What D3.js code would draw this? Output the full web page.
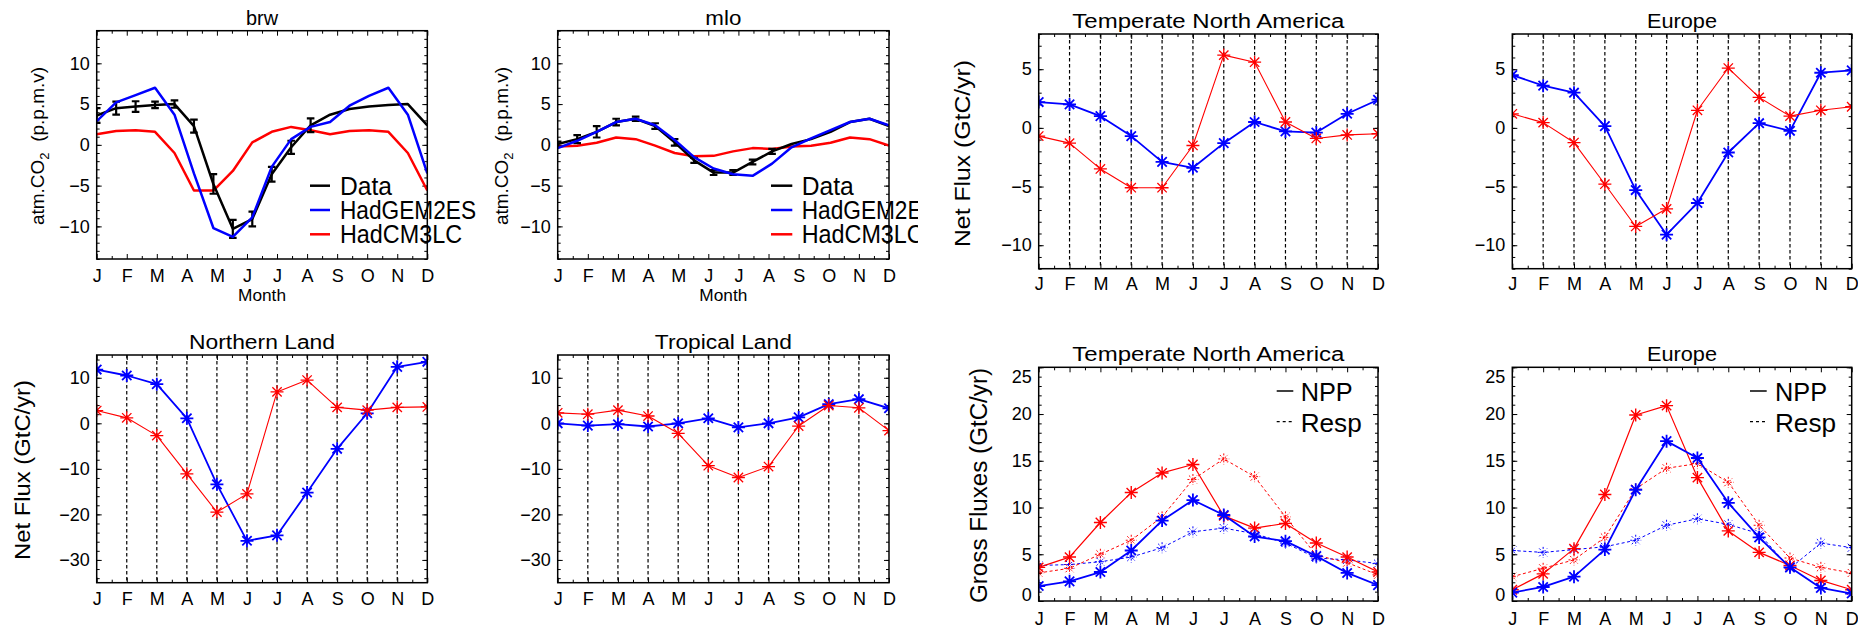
<!DOCTYPE html>
<html>
<head>
<meta charset="utf-8">
<script src="https://cdn.jsdelivr.net/npm/d3@7"></script>
<style>
  html, body { margin: 0; padding: 0; background: #fff; }
  svg { display: block; }
</style>
</head>
<body>
<script>
// ---------------- DATA ----------------
const months = ["J","F","M","A","M","J","J","A","S","O","N","D"];

// Atmospheric CO2 seasonal cycle (18 points spread over the J..D axis)
const brwObs       = [3.6,4.5,4.7,4.9,5.0,2.3,-4.8,-10.3,-9.1,-3.6,-0.3,2.4,3.7,4.4,4.7,4.9,5.0,2.4];
const brwObsErr    = [0.9,0.8,0.65,0.4,0.45,0.8,1.2,1.1,0.9,0.9,0.8,0.85];
const brwHadGEM2ES = [2.9,5.2,6.1,7.0,3.7,-3.5,-10.2,-11.3,-8.9,-2.7,0.7,2.2,2.8,4.8,6.0,7.0,3.7,-3.5];
const brwHadCM3LC  = [1.3,1.7,1.8,1.6,-1.0,-5.6,-5.6,-3.2,0.3,1.6,2.2,1.8,1.3,1.7,1.8,1.6,-1.0,-5.6];

const mloObs       = [0.1,0.7,1.6,2.8,3.2,2.3,0.3,-1.9,-3.4,-3.4,-2.1,-0.8,0.1,0.7,1.6,2.8,3.2,2.3];
const mloObsErr    = [0.3,0.5,0.7,0.4,0.25,0.35,0.4,0.3,0.3,0.3,0.3,0.3];
const mloHadGEM2ES = [-0.4,0.5,1.6,2.8,3.2,2.4,0.6,-1.5,-2.9,-3.6,-3.8,-2.3,-0.3,0.8,1.8,2.8,3.2,2.4];
const mloHadCM3LC  = [-0.2,-0.1,0.25,0.9,0.7,-0.1,-1.0,-1.4,-1.35,-0.8,-0.4,-0.5,-0.2,-0.1,0.25,0.9,0.7,-0.1];

// Net flux (GtC/yr), blue = HadGEM2ES, red = HadCM3LC
const tnaNetGEM = [2.2,2.0,1.0,-0.7,-2.9,-3.4,-1.3,0.5,-0.3,-0.4,1.2,2.4];
const tnaNetCM3 = [-0.7,-1.3,-3.5,-5.1,-5.1,-1.5,6.2,5.6,0.5,-0.9,-0.6,-0.5];
const eurNetGEM = [4.5,3.6,3.0,0.15,-5.3,-9.1,-6.4,-2.1,0.4,-0.25,4.7,4.9];
const eurNetCM3 = [1.2,0.45,-1.25,-4.8,-8.4,-6.9,1.5,5.1,2.6,1.0,1.5,1.8];
const nlNetGEM  = [11.8,10.5,8.6,1.1,-13.4,-25.8,-24.6,-15.2,-5.6,2.2,12.4,13.5];
const nlNetCM3  = [2.8,1.2,-2.7,-11.1,-19.5,-15.5,6.9,9.5,3.5,2.9,3.5,3.6];
const tlNetGEM  = [0.0,-0.5,-0.2,-0.7,0.0,1.1,-0.9,0.0,1.3,4.2,5.3,3.3];
const tlNetCM3  = [2.3,2.0,2.9,1.6,-2.2,-9.3,-11.9,-9.5,-0.6,3.9,3.4,-1.6];

// Gross fluxes (GtC/yr)
const tnaNppGEM  = [1.6,2.1,3.1,5.4,8.6,10.8,9.2,6.9,6.4,4.8,3.0,1.7];
const tnaRespGEM = [3.8,3.9,4.2,4.7,5.7,7.4,7.8,7.2,6.2,4.6,4.4,4.0];
const tnaNppCM3  = [3.6,4.7,8.4,11.6,13.7,14.6,9.1,7.8,8.3,6.2,4.7,3.1];
const tnaRespCM3 = [3.0,3.5,5.0,6.5,9.0,13.0,15.2,13.3,9.0,4.9,4.1,2.8];
const eurNppGEM  = [0.9,1.5,2.6,5.5,11.9,17.1,15.3,10.5,6.8,3.6,1.4,0.8];
const eurRespGEM = [5.4,5.2,5.5,5.8,6.5,8.1,8.8,8.2,7.2,3.5,6.2,5.7];
const eurNppCM3  = [1.2,2.9,5.6,11.4,19.9,20.9,13.2,7.5,5.2,3.8,2.2,1.2];
const eurRespCM3 = [2.6,3.5,4.4,6.8,12.0,14.2,14.7,12.7,8.1,4.6,3.6,3.0];

// Tick values
const co2Ticks   = [-10,-5,0,5,10];
const netTicksA  = [-10,-5,0,5];
const netTicksB  = [-30,-20,-10,0,10];
const grossTicks = [0,5,10,15,20,25];

const co2Legend   = ["Data","HadGEM2ES","HadCM3LC"];
const grossLegend = ["NPP","Resp"];

// ---------------- DRAWING ----------------
const FONT = "'Liberation Sans', Arial, Helvetica, sans-serif";
const BLUE = "#0000ff", RED = "#ff0000", BLACK = "#000000";
const svg = d3.select("body").append("svg").attr("width", 1858).attr("height", 626);
const defs = svg.append("defs");

const idx18 = d3.range(18).map(i => i * 11 / 17);
const idx12 = d3.range(12);

function asterisk(r) {
  const d = r * 0.72;
  return `M${-r},0L${r},0M0,${-r}L0,${r}M${-d},${-d}L${d},${d}M${-d},${d}L${d},${-d}`;
}

function panel(cfg) {
  const [x0, x1, y0, y1] = cfg.box;
  const x = d3.scaleLinear().domain([0, 11]).range([x0, x1]);
  const y = d3.scaleLinear().domain(cfg.yDomain).range([y1, y0]);
  const g = svg.append("g");
  const cid = "clip_" + cfg.id;
  defs.append("clipPath").attr("id", cid).append("rect")
    .attr("x", x0).attr("y", y0).attr("width", x1 - x0).attr("height", y1 - y0);

  // dashed month grid
  if (cfg.grid) {
    g.append("g").selectAll("line").data(d3.range(1, 11)).join("line")
      .attr("x1", d => x(d)).attr("x2", d => x(d)).attr("y1", y0).attr("y2", y1)
      .attr("stroke", BLACK).attr("stroke-width", 1.2).attr("stroke-dasharray", "3.5,2.5");
  }

  // axes
  const minorY = d3.range(cfg.minorStart, cfg.yDomain[1] + 1e-9, cfg.minorStep);
  const minorX = d3.range(0.5, 11, 1);
  function styleAxis(sel) {
    sel.select(".domain").remove();
    sel.selectAll("line").attr("stroke", BLACK).attr("stroke-width", 1);
    sel.attr("font-family", FONT).attr("font-size", 18);
    sel.selectAll("text").attr("fill", BLACK);
  }
  const left = g.append("g").attr("transform", `translate(${x0},0)`)
    .call(d3.axisLeft(y).tickValues(cfg.yTicks).tickSize(-5).tickPadding(7).tickFormat(d3.format("d")));
  styleAxis(left);
  left.selectAll("text").attr("y", d => {
    const py = y(d);
    if (py - y0 < 8) return 9.4;
    if (y1 - py < 8) return -6;
    return 0;
  });
  g.append("g").attr("transform", `translate(${x0},0)`)
    .call(d3.axisLeft(y).tickValues(minorY).tickSize(-3).tickFormat("")).call(styleAxis);
  g.append("g").attr("transform", `translate(${x1},0)`)
    .call(d3.axisRight(y).tickValues(cfg.yTicks).tickSize(-5).tickFormat("")).call(styleAxis);
  g.append("g").attr("transform", `translate(${x1},0)`)
    .call(d3.axisRight(y).tickValues(minorY).tickSize(-3).tickFormat("")).call(styleAxis);
  const bottom = g.append("g").attr("transform", `translate(0,${y1})`)
    .call(d3.axisBottom(x).tickValues(idx12).tickSize(-5).tickFormat(i => months[i]));
  styleAxis(bottom);
  bottom.selectAll("text").attr("y", cfg.xlabBase - y1).attr("dy", 0);
  g.append("g").attr("transform", `translate(0,${y1})`)
    .call(d3.axisBottom(x).tickValues(minorX).tickSize(-3).tickFormat("")).call(styleAxis);
  g.append("g").attr("transform", `translate(0,${y0})`)
    .call(d3.axisTop(x).tickValues(idx12).tickSize(-5).tickFormat("")).call(styleAxis);
  g.append("g").attr("transform", `translate(0,${y0})`)
    .call(d3.axisTop(x).tickValues(minorX).tickSize(-3).tickFormat("")).call(styleAxis);

  // series
  const plot = g.append("g").attr("clip-path", `url(#${cid})`);
  cfg.series.forEach(s => {
    const xs = s.xs || idx12;
    const line = d3.line().x((d, i) => x(xs[i])).y(d => y(d));
    plot.append("path").datum(s.values).attr("d", line)
      .attr("fill", "none").attr("stroke", s.color).attr("stroke-width", s.width)
      .attr("stroke-dasharray", s.dash || null).attr("stroke-linejoin", "round");
    if (s.err) {
      const eg = plot.append("g").attr("stroke", s.color).attr("stroke-width", 2.2);
      s.err.forEach((e, i) => {
        const cx = x(xs[i]), v = s.values[i];
        eg.append("line").attr("x1", cx).attr("x2", cx).attr("y1", y(v - e)).attr("y2", y(v + e));
        eg.append("line").attr("x1", cx - 3.8).attr("x2", cx + 3.8).attr("y1", y(v - e)).attr("y2", y(v - e));
        eg.append("line").attr("x1", cx - 3.8).attr("x2", cx + 3.8).attr("y1", y(v + e)).attr("y2", y(v + e));
      });
    }
    if (s.marker) {
      plot.append("g").selectAll("path").data(s.values).join("path")
        .attr("transform", (d, i) => `translate(${x(xs[i])},${y(d)})`)
        .attr("d", asterisk(s.marker))
        .attr("fill", "none").attr("stroke", s.color).attr("stroke-width", s.mwidth || s.width)
        .attr("stroke-dasharray", s.mdash || null);
    }
  });

  // frame
  g.append("rect").attr("x", x0).attr("y", y0).attr("width", x1 - x0).attr("height", y1 - y0)
    .attr("fill", "none").attr("stroke", BLACK).attr("stroke-width", 1.5);

  // title
  g.append("text").attr("x", (x0 + x1) / 2).attr("y", cfg.titleBase)
    .attr("text-anchor", "middle").attr("font-family", FONT).attr("font-size", 20)
    .attr("textLength", cfg.titleLen).attr("lengthAdjust", "spacingAndGlyphs")
    .attr("fill", BLACK).text(cfg.title);

  // y title
  if (cfg.yTitle) {
    const t = cfg.yTitle;
    const tt = g.append("text").attr("transform", `translate(${t.x},${t.y}) rotate(-90)`)
      .attr("text-anchor", "middle").attr("font-family", FONT).attr("font-size", t.size).attr("fill", BLACK);
    if (t.co2) {
      tt.append("tspan").text("atm.CO");
      tt.append("tspan").attr("font-size", 13).attr("dy", 5).text("2");
      tt.append("tspan").attr("dy", -5).text("\u00a0\u00a0(p.p.m.v)");
    } else {
      tt.attr("textLength", t.len).attr("lengthAdjust", "spacingAndGlyphs").text(t.text);
    }
  }

  // Month label
  if (cfg.monthBase) {
    g.append("text").attr("x", (x0 + x1) / 2).attr("y", cfg.monthBase)
      .attr("text-anchor", "middle").attr("font-family", FONT).attr("font-size", 17)
      .attr("textLength", 48).attr("lengthAdjust", "spacingAndGlyphs").attr("fill", BLACK).text("Month");
  }

  // legend
  if (cfg.legend) {
    const L = cfg.legend;
    const lg = g.append("g");
    if (L.clip) {
      defs.append("clipPath").attr("id", cid + "_leg").append("rect")
        .attr("x", 0).attr("y", 0).attr("width", L.clip).attr("height", 626);
      lg.attr("clip-path", `url(#${cid}_leg)`);
    }
    L.items.forEach((it, i) => {
      const ly = L.y[i];
      lg.append("line").attr("x1", L.lx0).attr("x2", L.lx1).attr("y1", ly).attr("y2", ly)
        .attr("stroke", it.color).attr("stroke-width", it.width).attr("stroke-dasharray", it.dash || null);
      lg.append("text").attr("x", L.tx).attr("y", L.base[i]).attr("font-family", FONT)
        .attr("font-size", L.size).attr("textLength", it.len).attr("lengthAdjust", "spacingAndGlyphs")
        .attr("fill", BLACK).text(it.label);
    });
  }
}

const co2LegendStyle = [
  { label: co2Legend[0], color: BLACK, width: 2.5, len: 52 },
  { label: co2Legend[1], color: BLUE,  width: 2.5, len: 136 },
  { label: co2Legend[2], color: RED,   width: 2.5, len: 122 }
];
const grossLegendStyle = [
  { label: grossLegend[0], color: BLACK, width: 1.5, len: 52 },
  { label: grossLegend[1], color: BLACK, width: 1.2, dash: "3,3", len: 61 }
];

// Panel 1: brw
panel({
  id: "brw", box: [96.7, 427.3, 30.7, 259], yDomain: [-14, 14], yTicks: co2Ticks,
  minorStart: -14, minorStep: 1, title: "brw", titleBase: 25, titleLen: 32,
  xlabBase: 281.7, monthBase: 301,
  yTitle: { co2: true, x: 44, y: 146, size: 19 },
  series: [
    { values: brwHadCM3LC, xs: idx18, color: RED, width: 2.5 },
    { values: brwObs, xs: idx18, color: BLACK, width: 2.5, err: brwObsErr },
    { values: brwHadGEM2ES, xs: idx18, color: BLUE, width: 2.5 }
  ],
  legend: { items: co2LegendStyle, lx0: 310, lx1: 330, tx: 340, y: [185.7, 210, 234.3], base: [194.5, 218.5, 242.7], size: 25 }
});

// Panel 2: mlo
panel({
  id: "mlo", box: [557.7, 889, 30.7, 259], yDomain: [-14, 14], yTicks: co2Ticks,
  minorStart: -14, minorStep: 1, title: "mlo", titleBase: 25, titleLen: 36,
  xlabBase: 281.7, monthBase: 301,
  yTitle: { co2: true, x: 508, y: 146, size: 19 },
  series: [
    { values: mloHadCM3LC, xs: idx18, color: RED, width: 2.5 },
    { values: mloObs, xs: idx18, color: BLACK, width: 2.5, err: mloObsErr },
    { values: mloHadGEM2ES, xs: idx18, color: BLUE, width: 2.5 }
  ],
  legend: { items: co2LegendStyle, lx0: 771, lx1: 792.3, tx: 801.7, y: [185.7, 210, 234.3], base: [194.5, 218.5, 242.7], size: 25, clip: 918 }
});

// Panel 3: Temperate North America net flux
panel({
  id: "tnaNet", box: [1038.7, 1378, 34, 268.7], yDomain: [-12, 8], yTicks: netTicksA,
  minorStart: -12, minorStep: 1, title: "Temperate North America", titleBase: 28.3, titleLen: 272,
  xlabBase: 290.5, grid: true,
  yTitle: { text: "Net Flux (GtC/yr)", x: 969.5, y: 153.5, size: 22, len: 187 },
  series: [
    { values: tnaNetGEM, color: BLUE, width: 1.8, marker: 6.5, mwidth: 1.8 },
    { values: tnaNetCM3, color: RED, width: 1.1, marker: 6.5, mwidth: 1.3 }
  ]
});

// Panel 4: Europe net flux
panel({
  id: "eurNet", box: [1512.3, 1851.7, 34, 268.7], yDomain: [-12, 8], yTicks: netTicksA,
  minorStart: -12, minorStep: 1, title: "Europe", titleBase: 28.3, titleLen: 70,
  xlabBase: 290.5, grid: true,
  series: [
    { values: eurNetGEM, color: BLUE, width: 1.8, marker: 6.5, mwidth: 1.8 },
    { values: eurNetCM3, color: RED, width: 1.1, marker: 6.5, mwidth: 1.3 }
  ]
});

// Panel 5: Northern Land
panel({
  id: "nlNet", box: [96.7, 427.3, 355, 582.7], yDomain: [-35, 15], yTicks: netTicksB,
  minorStart: -34, minorStep: 2, title: "Northern Land", titleBase: 349.3, titleLen: 146,
  xlabBase: 605, grid: true,
  yTitle: { text: "Net Flux (GtC/yr)", x: 29.5, y: 470, size: 22, len: 180 },
  series: [
    { values: nlNetGEM, color: BLUE, width: 1.8, marker: 6.5, mwidth: 1.8 },
    { values: nlNetCM3, color: RED, width: 1.1, marker: 6.5, mwidth: 1.3 }
  ]
});

// Panel 6: Tropical Land
panel({
  id: "tlNet", box: [557.7, 889, 355, 582.7], yDomain: [-35, 15], yTicks: netTicksB,
  minorStart: -34, minorStep: 2, title: "Tropical Land", titleBase: 349.3, titleLen: 137,
  xlabBase: 605, grid: true,
  series: [
    { values: tlNetGEM, color: BLUE, width: 1.8, marker: 6.5, mwidth: 1.8 },
    { values: tlNetCM3, color: RED, width: 1.1, marker: 6.5, mwidth: 1.3 }
  ]
});

// Panel 7: Temperate North America gross fluxes
panel({
  id: "tnaGross", box: [1038.7, 1378, 367.3, 601], yDomain: [0, 25], yTicks: grossTicks,
  minorStart: 0, minorStep: 1, title: "Temperate North America", titleBase: 360.7, titleLen: 272,
  xlabBase: 625,
  yTitle: { text: "Gross Fluxes (GtC/yr)", x: 987, y: 485.5, size: 23, len: 235 },
  series: [
    { values: tnaRespGEM, color: BLUE, width: 1, dash: "3,2.5", marker: 5.5, mwidth: 1, mdash: "2,1.5" },
    { values: tnaRespCM3, color: RED, width: 1, dash: "3,2.5", marker: 5.5, mwidth: 1, mdash: "2,1.5" },
    { values: tnaNppCM3, color: RED, width: 1.2, marker: 6.5, mwidth: 1.4 },
    { values: tnaNppGEM, color: BLUE, width: 1.8, marker: 6.5, mwidth: 1.8 }
  ],
  legend: { items: grossLegendStyle, lx0: 1276.7, lx1: 1293.3, tx: 1300.7, y: [391, 421.7], base: [401, 431.7], size: 26 }
});

// Panel 8: Europe gross fluxes
panel({
  id: "eurGross", box: [1512.3, 1851.7, 367.3, 601], yDomain: [0, 25], yTicks: grossTicks,
  minorStart: 0, minorStep: 1, title: "Europe", titleBase: 360.7, titleLen: 70,
  xlabBase: 625,
  series: [
    { values: eurRespGEM, color: BLUE, width: 1, dash: "3,2.5", marker: 5.5, mwidth: 1, mdash: "2,1.5" },
    { values: eurRespCM3, color: RED, width: 1, dash: "3,2.5", marker: 5.5, mwidth: 1, mdash: "2,1.5" },
    { values: eurNppCM3, color: RED, width: 1.2, marker: 6.5, mwidth: 1.4 },
    { values: eurNppGEM, color: BLUE, width: 1.8, marker: 6.5, mwidth: 1.8 }
  ],
  legend: { items: grossLegendStyle, lx0: 1750, lx1: 1766.7, tx: 1775, y: [391, 421.7], base: [401, 431.7], size: 26 }
});
</script>
</body>
</html>
